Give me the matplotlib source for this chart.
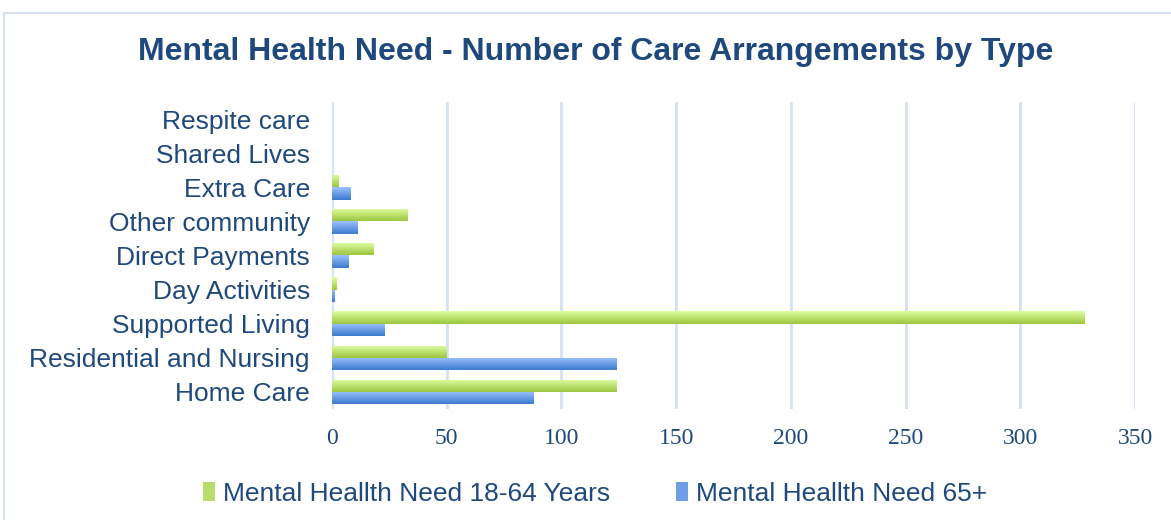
import numpy as np
import matplotlib.pyplot as plt
from matplotlib.patches import Patch, Rectangle
from matplotlib.colors import LinearSegmentedColormap

# Datos (de abajo hacia arriba)
categorias = ["Home Care", "Residential and Nursing", "Supported Living",
              "Day Activities", "Direct Payments", "Other community",
              "Extra Care", "Shared Lives", "Respite care"]
edad_18_64 = [124, 50, 328, 2, 18, 33, 3, 0, 0]
edad_65 = [88, 124, 23, 1, 7, 11, 8, 0, 0]
series = ["Mental Heallth Need 18-64 Years", "Mental Heallth Need 65+"]
ticks_x = [0, 50, 100, 150, 200, 250, 300, 350]

texto = "#1F497D"
verde = ("#9BC63F", "#E0FFA3")   # abajo, arriba
azul = ("#3C7BCD", "#9CC2FF")

plt.rcParams['font.family'] = ['Liberation Sans', 'DejaVu Sans']

fig = plt.figure(figsize=(11.71, 5.20), dpi=100)
ax = fig.add_axes([0.2835, 0.2135, 0.6858, 0.5904])

# marco del gráfico
fig.patches.append(Rectangle((4 / 1171, -0.1), 1.2, 0.1 + 1 - 13 / 520,
                             transform=fig.transFigure, fill=False,
                             edgecolor="#D6E0F0", linewidth=1.5, zorder=0))

y = np.arange(len(categorias))
h = 0.36
grad = np.linspace(0, 1, 64).reshape(-1, 1)

for valores, colores, off in [(edad_18_64, verde, h / 2), (edad_65, azul, -h / 2)]:
    barras = ax.barh(y + off, valores, height=h, color="none", linewidth=0, zorder=2)
    cmap = LinearSegmentedColormap.from_list("g", colores)
    for b in barras:
        if b.get_width() <= 0:
            continue
        x0, y0 = b.get_x(), b.get_y()
        im = ax.imshow(grad, cmap=cmap, origin="lower", aspect="auto",
                       extent=[x0, x0 + b.get_width(), y0, y0 + b.get_height()],
                       zorder=2, interpolation="bilinear")
        im.set_clip_path(b)

ax.set_xlim(0, 350)
ax.set_ylim(-0.5, len(categorias) - 0.5)
ax.set_xticks(ticks_x)
ax.set_yticks(y)
ax.set_yticklabels(categorias, fontsize=19, color=texto)
for lbl in ax.get_xticklabels():
    lbl.set_family(['Liberation Serif', 'DejaVu Serif'])
    lbl.set_fontsize(17)
    lbl.set_color(texto)
ax.tick_params(axis="both", length=0)
ax.tick_params(axis="x", pad=14)
ax.tick_params(axis="y", pad=16)
ax.grid(axis="x", color="#D5E1F2", linewidth=2, zorder=0)
ax.set_axisbelow(True)
for s in ax.spines.values():
    s.set_visible(False)

fig.text(0.5085, 1 - 52 / 520, "Mental Health Need - Number of Care Arrangements by Type",
         ha="center", va="center", fontsize=23, fontweight="bold", color=texto)

handles = [Patch(facecolor="#B9DC6C", label=series[0]),
           Patch(facecolor="#6E9FE6", label=series[1])]
fig.legend(handles=handles, loc="center", bbox_to_anchor=(0.508, 1 - 494 / 520),
           ncol=2, frameon=False, fontsize=19, labelcolor=texto,
           handlelength=0.45, handleheight=0.75, handletextpad=0.3, columnspacing=2.5)

plt.savefig("out.png", dpi=100)
